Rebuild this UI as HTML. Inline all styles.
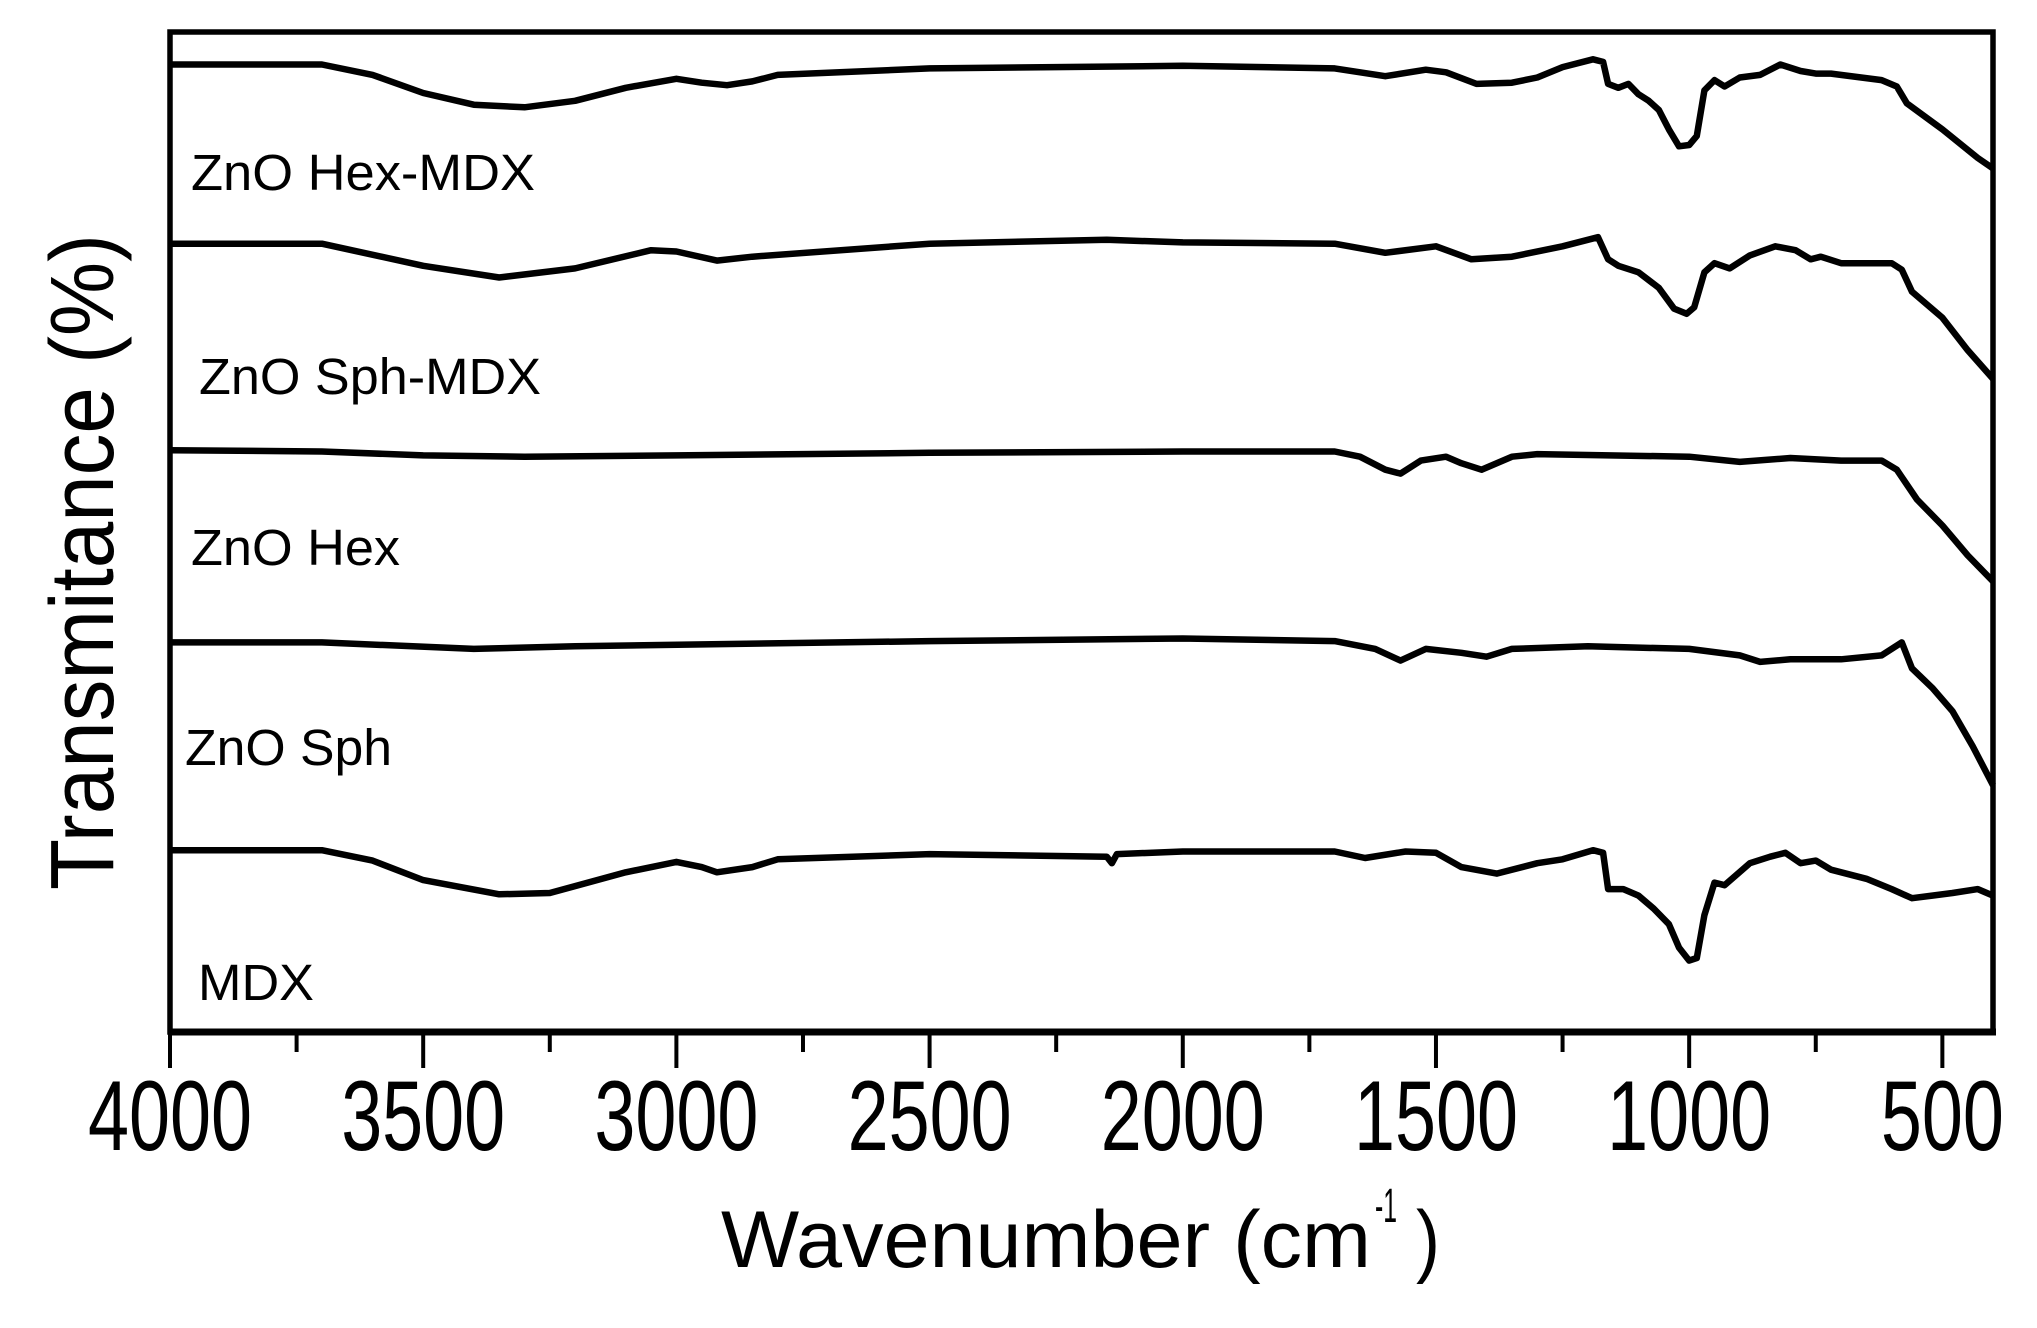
<!DOCTYPE html>
<html><head><meta charset="utf-8"><style>
html,body{margin:0;padding:0;background:#fff;}
svg{display:block;font-family:"Liberation Sans",Arial,sans-serif;}
</style></head><body>
<svg id="chart" width="2037" height="1328" viewBox="0 0 2037 1328" xmlns="http://www.w3.org/2000/svg">
<g id="series"></g>
<rect x="170" y="32" width="1823" height="1000" fill="none" stroke="#000" stroke-width="5.5"/>
<line x1="168" x2="1996" y1="1032" y2="1032" stroke="#000" stroke-width="7"/>
<g id="ticks"></g>
<g id="ticklabels" font-size="99" text-anchor="middle"></g>
<text x="721" y="1267" font-size="81" textLength="650" lengthAdjust="spacingAndGlyphs">Wavenumber (cm</text>
<text x="1375" y="1222" font-size="48" textLength="22" lengthAdjust="spacingAndGlyphs">-1</text>
<text x="1416" y="1267" font-size="81" textLength="24" lengthAdjust="spacingAndGlyphs">)</text>
<text transform="translate(113,562) rotate(-90)" text-anchor="middle" font-size="90" textLength="656" lengthAdjust="spacingAndGlyphs">Transmitance (%)</text>
<g font-size="51">
<text x="191" y="190" textLength="344" lengthAdjust="spacingAndGlyphs">ZnO Hex-MDX</text>
<text x="199" y="394" textLength="342" lengthAdjust="spacingAndGlyphs">ZnO Sph-MDX</text>
<text x="191" y="565" textLength="209" lengthAdjust="spacingAndGlyphs">ZnO Hex</text>
<text x="185" y="765" textLength="207" lengthAdjust="spacingAndGlyphs">ZnO Sph</text>
<text x="198" y="1000" textLength="116" lengthAdjust="spacingAndGlyphs">MDX</text>
</g>
</svg>
<script>
const tickValues = [4000,3500,3000,2500,2000,1500,1000,500];
const minorTickValues = [3750,3250,2750,2250,1750,1250,750];
const tickLabels = ["4000","3500","3000","2500","2000","1500","1000","500"];

const hexMdxWn = [4000,3700,3600,3500,3400,3300,3200,3100,3000,2950,2900,2850,2800,2500,2000,1700,1600,1520,1480,1420,1350,1300,1250,1190,1170,1160,1140,1120,1100,1080,1060,1040,1020,1000,985,970,950,930,900,860,820,780,750,720,620,590,570,500,430,400];
const hexMdxT = [745,745,737,723,714,712,717,727,734,731,729,732,737,742,744,742,736,741,739,730,731,735,743,749,747,730,727,730,722,717,710,695,682,683,690,725,733,728,735,737,745,740,738,738,733,728,715,695,673,665];

const sphMdxWn = [4000,3700,3500,3350,3200,3050,3000,2920,2850,2500,2150,2000,1700,1600,1500,1430,1350,1250,1180,1160,1140,1100,1060,1030,1005,990,970,950,920,880,830,790,760,740,700,600,580,560,500,450,400];
const sphMdxT = [607,607,590,581,588,602,601,594,597,607,610,608,607,600,605,595,597,605,612,595,590,585,573,557,553,558,585,592,588,598,605,602,595,597,592,592,587,570,550,525,503];

const hexWn = [4000,3700,3500,3300,3000,2500,2000,1700,1650,1600,1570,1530,1480,1450,1410,1380,1350,1300,1000,900,800,700,620,590,550,500,450,400];
const hexT = [448,447,444,443,444,446,447,447,443,433,430,440,443,438,433,438,443,445,443,439,442,440,440,433,410,390,367,347];

const sphWn = [4000,3700,3400,3200,2500,2000,1700,1620,1570,1520,1450,1400,1350,1200,1000,900,860,800,700,620,580,560,520,480,440,400];
const sphT = [300,300,295,297,301,303,301,295,286,295,292,289,295,297,295,290,285,287,287,290,300,280,265,247,220,190];

const mdxWn = [4000,3700,3600,3500,3350,3250,3100,3000,2950,2920,2850,2800,2500,2150,2140,2130,2000,1700,1640,1560,1500,1450,1380,1300,1250,1190,1170,1160,1130,1100,1070,1040,1020,1000,985,970,950,930,880,840,810,780,750,720,650,600,560,520,480,430,400];
const mdxT = [140,140,132,117,106,107,123,131,127,123,127,133,137,135,130,137,139,139,134,139,138,127,122,130,133,140,138,110,110,105,95,83,65,55,57,90,115,113,130,135,138,130,132,125,118,110,103,105,107,110,105];

const NS = "http://www.w3.org/2000/svg";
function xScale(w){ return 170 + (4000 - w) / 3600 * 1823; }
function yScale(v){ return 1032 - v * 1.2987; }

const seriesG = document.getElementById('series');
const allSeries = [
  ['series-zno-hex-mdx', hexMdxWn, hexMdxT],
  ['series-zno-sph-mdx', sphMdxWn, sphMdxT],
  ['series-zno-hex', hexWn, hexT],
  ['series-zno-sph', sphWn, sphT],
  ['series-mdx', mdxWn, mdxT]
];
allSeries.forEach(function(s){
  const pts = s[1].map(function(w,i){ return xScale(w).toFixed(1) + ',' + yScale(s[2][i]).toFixed(1); }).join(' ');
  const pl = document.createElementNS(NS,'polyline');
  pl.setAttribute('points', pts);
  pl.setAttribute('fill','none');
  pl.setAttribute('stroke','#000');
  pl.setAttribute('stroke-width','6.5');
  pl.setAttribute('stroke-linejoin','round');
  
  
  seriesG.appendChild(pl);
});

const tickG = document.getElementById('ticks');
tickValues.forEach(function(v){
  const l = document.createElementNS(NS,'line');
  l.setAttribute('x1', xScale(v)); l.setAttribute('x2', xScale(v));
  l.setAttribute('y1', 1032); l.setAttribute('y2', 1068);
  l.setAttribute('stroke','#000'); l.setAttribute('stroke-width','4');
  
  
  tickG.appendChild(l);
});
minorTickValues.forEach(function(v){
  const l = document.createElementNS(NS,'line');
  l.setAttribute('x1', xScale(v)); l.setAttribute('x2', xScale(v));
  l.setAttribute('y1', 1032); l.setAttribute('y2', 1052);
  l.setAttribute('stroke','#000'); l.setAttribute('stroke-width','4');
  
  
  tickG.appendChild(l);
});
const tlG = document.getElementById('ticklabels');
tickValues.forEach(function(v,i){
  const t = document.createElementNS(NS,'text');
  t.setAttribute('x', xScale(v)); t.setAttribute('y', 1150);
  t.setAttribute('textLength', tickLabels[i].length * 41);
  t.setAttribute('lengthAdjust','spacingAndGlyphs');
  t.textContent = tickLabels[i];
  
  
  tlG.appendChild(t);
});
</script>
</body></html>
